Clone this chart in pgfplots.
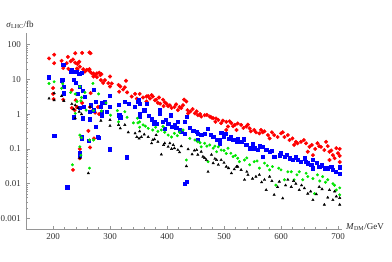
\documentclass[border=0pt]{standalone}
\usepackage{pgfplots}
\pgfplotsset{compat=1.18}
\usepackage{fontspec}
\setmainfont{Liberation Serif}
\definecolor{axgray}{RGB}{150,150,150}
\definecolor{mgreen}{RGB}{0,230,0}
\begin{document}
\begin{tikzpicture}
\begin{axis}[
  name=ax,
  scale only axis,
  width=316pt, height=196pt,
  xmin=152.6, xmax=707,
  ymode=log, ymin=0.0005, ymax=214,
  axis x line=bottom, axis y line=left,
  axis line style={axgray, line width=0.5pt, -},
  tick align=inside,
  xtick={200,300,400,500,600,700},
  minor x tick num=4,
  ytick={0.001,0.01,0.1,1,10,100},
  yticklabels={0.001,0.01,0.1,1,10,100},
  minor ytick={},
  major tick length=3.5pt, minor tick length=2pt,
  tick style={axgray, line width=0.5pt},
  ticklabel style={font=\fontsize{9}{10}\selectfont, text=black!80},
  /pgf/number format/assume math mode=true,
  xticklabel style={yshift=-0.5pt},
  yticklabel style={xshift=-1.5pt},
  clip=false,
]
% red
\addplot[only marks, mark=*, mark size=1.8pt, red, mark options={draw=red, fill=red}] coordinates {
(193,39.8)(202,51)(202,29)(215,34)(224,29)(226,44)(231,33)(235,37)(239,56)(239,30)(243,27.5)(246,32)(247,23)(242,20.4)
(251,57.5)(264,59)(266,56)(253,19.5)(259,18.6)(264,19.5)(256,16.6)(265,16.6)(271,14.8)(274,13.2)(277,14.8)(281,15.5)
(285,14.1)(271,12)(277,11.5)(284,9.5)(288,7.9)(300,12)(303,7.6)(315,6.9)(318,6.2)(328,9.1)(316,4.4)(323,5.1)(330,4.2)
(344,3.8)(352,3.8)(218,21)(227,20)(233,18.6)(243,18.6)(262,18.6)(268,14.8)(283,13.2)(291,9.5)(297,7.8)(300,6.2)
(326,5.9)(338,3.2)(347,2.8)(364,3.2)(379,2.5)(388,2.0)(394,1.7)
(200,5.6)(200,3.8)(201,2.7)(218,2.6)(233,4.9)(240,2.5)(233,1.5)(238,1.3)(242,1.6)(251,2.1)(265,1.6)(268,1.2)(274,1.1)(279,1.6)(281,1.0)(266,4.0)
(262,0.33)(247,0.10)(247,0.054)(265,0.11)(272,0.20)(235,0.025)(250,0.21)
(367,3.3)(373,3.5)(375,3.2)(364,2.3)(381,2.6)(384,2.1)(393,2.6)(399,2.0)(405,1.8)(408,1.5)(413,1.6)(419,1.3)(422,1.6)
(425,1.5)(430,2.6)(434,2.3)(436,1.3)(437,1.05)(449,1.05)(454,0.93)(460,0.85)(466,0.93)(475,0.85)(481,0.76)(485,0.60)
(490,0.68)(495,0.55)(504,0.60)(507,0.44)(513,0.55)(519,0.49)(522,0.35)(504,0.35)
(524,0.54)(530,0.49)(539,0.44)(545,0.39)(547,0.32)(553,0.35)(562,0.28)(565,0.35)(571,0.32)(577,0.25)(580,0.20)(588,0.25)
(600,0.28)(606,0.22)(612,0.25)(615,0.18)(623,0.13)(629,0.145)(635,0.16)(644,0.145)(650,0.115)(656,0.066)(664,0.145)
(670,0.115)(676,0.093)(685,0.083)(691,0.066)(694,0.054)(697,0.105)(679,0.16)(647,0.083)(685,0.048)(703,0.10)(703,0.063)(703,0.042)
(358,3.0)(370,2.8)(386,3.0)(396,2.2)(402,1.7)(416,1.9)(428,1.8)(441,1.2)(445,1.4)(452,1.2)(458,1.0)(470,0.95)(478,0.80)
(486,0.75)(498,0.65)(510,0.62)(516,0.45)(534,0.40)(542,0.50)(556,0.30)(568,0.30)(584,0.30)(594,0.22)(603,0.30)(620,0.20)
(626,0.16)(640,0.18)(654,0.13)(660,0.10)(667,0.12)(682,0.12)(688,0.09)(700,0.075)
};
% blue
\addplot[only marks, mark=square*, mark size=1.6pt, blue, mark options={draw=blue, fill=blue}] coordinates {
(193,11.5)(219,25.7)(218,26)(233,18.6)(231,16.6)(235,16.6)(241,16.2)(246,14.8)(250,15.5)(215,9.1)(216,9.6)(236,10)(240,7.9)
(219,6.2)(219,4.0)(252,4.7)(243,3.8)(256,3.2)(271,4.9)(275,2.3)(285,2.1)(291,2.2)(300,3.3)(300,1.6)(294,1.17)(285,0.89)
(271,1.3)(254,1.6)(247,1.5)(236,0.81)(252,0.76)(264,0.71)(275,0.44)(315,1.9)(316,0.93)(318,0.81)(326,2.3)(333,1.95)
(344,1.6)(348,2.3)(350,2.6)(284,1.6)(285,1.17)(247,6.2)(266,1.8)(265,1.17)
(202,0.24)(250,0.20)(280,0.21)(300,0.098)(329,0.058)(225,0.0079)(247,0.076)(247,0.063)(262,0.17)(279,0.22)(251,0.22)
(352,2.0)(364,2.0)(352,1.05)(352,0.85)(373,0.71)(378,0.60)(381,0.52)(387,1.3)(387,1.05)(393,0.60)(396,0.39)(402,0.52)
(406,0.93)(408,0.44)(413,0.49)(419,0.60)(422,0.35)(431,0.60)(434,0.85)(425,0.32)(431,0.28)(452,0.32)(454,0.27)(460,0.25)
(472,0.39)(481,0.22)(487,0.18)(493,0.18)(495,0.30)(502,0.27)(508,0.20)(516,0.18)(522,0.16)(493,0.145)(454,0.18)
(431,0.010)(434,0.0115)
(524,0.20)(530,0.16)(539,0.13)(545,0.105)(553,0.105)(559,0.093)(568,0.115)(574,0.093)(580,0.083)(588,0.060)(597,0.066)
(606,0.060)(615,0.054)(621,0.048)(629,0.048)(635,0.043)(641,0.054)(647,0.039)(653,0.035)(656,0.028)(667,0.031)(676,0.028)
(682,0.028)(691,0.025)(656,0.048)(568,0.060)(703,0.030)(703,0.019)
(360,1.3)(368,0.9)(376,0.55)(398,0.7)(416,0.4)(440,0.4)(446,0.33)(466,0.28)(476,0.25)(500,0.22)(512,0.23)(534,0.19)
(550,0.14)(562,0.12)(584,0.09)(600,0.075)(610,0.07)(626,0.058)(644,0.044)(662,0.04)(672,0.034)(688,0.031)(696,0.022)
};
% green
\addplot[only marks, mark=*, mark size=1.3pt, mgreen, mark options={draw=mgreen, fill=mgreen}] coordinates {
(193,7.6)(202,8.5)(217,7.4)(215,5.5)(231,4.2)(239,3.8)(247,6.2)(256,4.2)(270,7.6)(280,3.8)(249,2.4)(242,2.3)(239,1.05)
(285,1.23)(293,2.1)(301,0.93)(313,1.26)(315,0.60)(326,1.17)(330,0.81)(341,0.56)(349,0.56)(352,0.42)(348,0.76)(271,1.26)
(258,1.3)(250,3.0)
(250,0.21)(247,0.115)(249,0.066)(264,0.18)(271,0.18)(234,0.035)(264,0.028)(247,0.25)
(352,0.60)(358,0.49)(367,0.39)(375,0.35)(384,0.32)(390,0.35)(393,0.44)(402,0.25)(408,0.22)(413,0.28)(422,0.30)(428,0.35)
(434,0.048)(449,0.18)(454,0.16)(460,0.115)(466,0.145)(475,0.13)(481,0.105)(487,0.083)(490,0.115)(495,0.093)(504,0.074)
(507,0.105)(472,0.043)(516,0.060)
(524,0.054)(527,0.043)(536,0.048)(545,0.035)(553,0.043)(562,0.028)(571,0.039)(580,0.025)(585,0.031)(591,0.0091)(600,0.025)
(606,0.013)(618,0.022)(623,0.013)(632,0.022)(638,0.013)(647,0.016)(659,0.0052)(664,0.018)(673,0.016)(682,0.013)(691,0.010)
(697,0.0066)(703,0.0076)(703,0.0048)
(362,0.45)(380,0.42)(396,0.30)(418,0.24)(440,0.20)(458,0.15)(470,0.12)(484,0.12)(500,0.09)(512,0.075)(520,0.065)
(540,0.055)(558,0.045)(576,0.033)(596,0.028)(612,0.022)(628,0.018)(644,0.020)(656,0.014)(668,0.012)(678,0.011)(694,0.009)
};
% black
\addplot[only marks, mark=triangle*, mark size=1.4pt, black, mark options={draw=black, fill=black}] coordinates {
(193,2.8)(202,4.0)(202,2.5)(219,2.4)(215,3.3)(233,1.95)(236,1.38)(239,0.76)(246,1.17)(250,1.0)(239,1.8)(244,1.5)(265,1.6)
(284,0.65)(300,0.68)(300,0.46)(315,0.49)(318,0.39)(326,0.49)(332,0.30)(344,0.28)(347,0.22)(351,0.20)
(262,0.020)(247,0.054)
(352,0.32)(355,0.22)(367,0.22)(373,0.145)(375,0.18)(381,0.25)(384,0.16)(390,0.069)(396,0.145)(402,0.115)(405,0.145)
(411,0.13)(413,0.105)(419,0.093)(425,0.12)(434,0.032)(437,0.098)(452,0.093)(454,0.068)(460,0.083)(463,0.060)(469,0.048)
(472,0.022)(478,0.068)(481,0.039)(487,0.048)(490,0.035)(495,0.048)(504,0.031)(513,0.020)(522,0.031)
(524,0.031)(530,0.025)(536,0.013)(542,0.018)(550,0.014)(562,0.018)(571,0.013)(574,0.0066)(580,0.016)(588,0.0048)
(597,0.0115)(603,0.0038)(612,0.013)(618,0.0081)(626,0.010)(632,0.0066)(641,0.0074)(647,0.0052)(656,0.0034)(667,0.0081)
(676,0.0025)(685,0.0066)(691,0.0034)(697,0.0043)(703,0.0039)(703,0.0025)
(360,0.26)(378,0.19)(394,0.13)(408,0.10)(422,0.08)(444,0.07)(448,0.09)(466,0.055)(484,0.052)(500,0.04)(508,0.028)
(518,0.026)(540,0.022)(556,0.016)(566,0.011)(584,0.012)(594,0.008)(608,0.009)(622,0.012)(636,0.009)(652,0.006)
(662,0.005)(672,0.007)(682,0.004)(694,0.006)
};
\node[anchor=south, font=\fontsize{9}{10}\selectfont, text=black!85, inner sep=1pt] at ([xshift=-6pt,yshift=3pt]rel axis cs:0,1) {\textit{σ}\textsubscript{LHC}/fb};
\node[anchor=west, font=\fontsize{9}{10}\selectfont, text=black!85, inner sep=1pt] at ([xshift=3pt,yshift=2pt]rel axis cs:1,0) {\textit{M}\textsubscript{DM}/GeV};
\end{axis}
\pgfresetboundingbox
\path ([shift={(-26pt,-33pt)}]ax.south west) rectangle ([shift={(50pt,33pt)}]ax.north east);
\end{tikzpicture}
\end{document}
